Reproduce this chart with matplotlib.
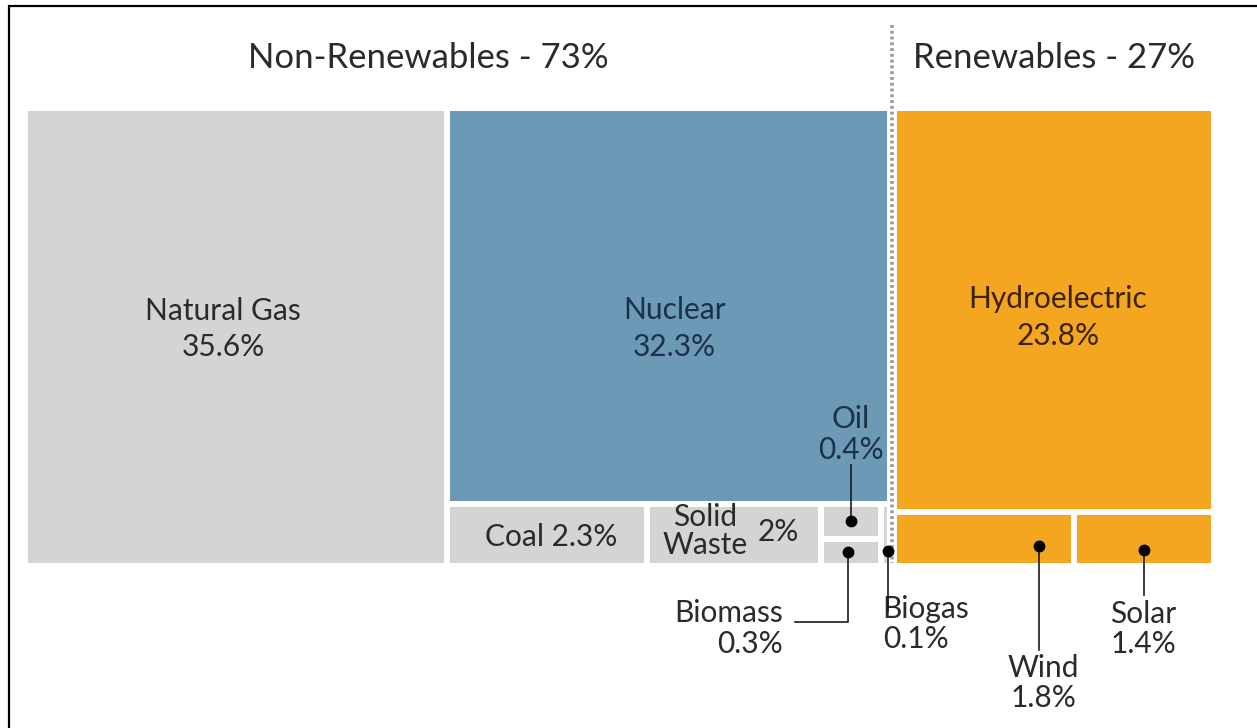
import matplotlib.pyplot as plt

plt.rcParams['font.family'] = ['Lato', 'DejaVu Sans']

# share of generation by source (%)
nonrenew_names = ["Natural Gas", "Nuclear", "Coal", "Solid Waste", "Oil", "Biomass", "Biogas"]
nonrenew_vals = [35.6, 32.3, 2.3, 2.0, 0.4, 0.3, 0.1]
renew_names = ["Hydroelectric", "Wind", "Solar"]
renew_vals = [23.8, 1.8, 1.4]
group_labels = ["Non-Renewables", "Renewables"]

GREY = "#d4d4d4"
BLUE = "#6c9ab6"
ORANGE = "#f4a621"
TXT = "#2a2a2a"
NAVY = "#1c3149"
BROWN = "#3a2200"

W, H = 1257, 728
fig = plt.figure(figsize=(W / 100, H / 100), dpi=100)
ax = fig.add_axes([0, 0, 1, 1])
ax.set_xlim(0, W)
ax.set_ylim(H, 0)
ax.axis("off")

# treemap box in pixels (edges straddle the box so extend by half a gap)
bx0, bx1, by0, by1 = 25, 1214, 108, 566
group_gap = 4
gap_lw = 4.3

nr = dict(zip(nonrenew_names, nonrenew_vals))
rn = dict(zip(renew_names, renew_vals))
nr_total = sum(nonrenew_vals)
rn_total = sum(renew_vals)
total = nr_total + rn_total

width = bx1 - bx0 - group_gap
hgt = by1 - by0
nr_w = width * nr_total / total
rn_x0 = bx0 + nr_w + group_gap

cells = {}
# natural gas takes the full height
ng_w = nr_w * nr["Natural Gas"] / nr_total
cells["Natural Gas"] = (bx0, by0, ng_w, hgt)
rest_x0 = bx0 + ng_w
rest_w = nr_w - ng_w
rest_total = nr_total - nr["Natural Gas"]
nuc_h = hgt * nr["Nuclear"] / rest_total
cells["Nuclear"] = (rest_x0, by0, rest_w, nuc_h)
strip_y = by0 + nuc_h
strip_h = hgt - nuc_h
strip_total = rest_total - nr["Nuclear"]
x = rest_x0
for name in ["Coal", "Solid Waste"]:
    w = rest_w * nr[name] / strip_total
    cells[name] = (x, strip_y, w, strip_h)
    x += w
ob = nr["Oil"] + nr["Biomass"]
w = rest_w * ob / strip_total
oil_h = strip_h * nr["Oil"] / ob
cells["Oil"] = (x, strip_y, w, oil_h)
cells["Biomass"] = (x, strip_y + oil_h, w, strip_h - oil_h)
x += w
cells["Biogas"] = (x, strip_y, rest_w * nr["Biogas"] / strip_total, strip_h)

rn_w = width - nr_w
hyd_h = hgt * rn["Hydroelectric"] / rn_total
cells["Hydroelectric"] = (rn_x0, by0, rn_w, hyd_h)
low_total = rn["Wind"] + rn["Solar"]
wind_w = rn_w * rn["Wind"] / low_total
cells["Wind"] = (rn_x0, by0 + hyd_h, wind_w, hgt - hyd_h)
cells["Solar"] = (rn_x0 + wind_w, by0 + hyd_h, rn_w - wind_w, hgt - hyd_h)

colors = {n: GREY for n in nonrenew_names}
colors["Nuclear"] = BLUE
for n in renew_names:
    colors[n] = ORANGE

for name, (cx, cy, cw, ch) in cells.items():
    ax.bar(cx, ch, width=cw, bottom=cy, align="edge", color=colors[name],
           edgecolor="white", linewidth=gap_lw)


def center(name):
    cx, cy, cw, ch = cells[name]
    return cx + cw / 2, cy + ch / 2


def pct(v):
    return f"{v:g}%"


FS = 21.5

# labels inside the big cells: (name, dx, dy, colour)
inside = [("Natural Gas", nr, -13, -8, TXT),
          ("Nuclear", nr, 6, 23, NAVY),
          ("Hydroelectric", rn, 4, 8, BROWN)]
for name, src, dx, dy, c in inside:
    mx, my = center(name)
    ax.text(mx + dx, my + dy, f"{name}\n{pct(src[name])}", ha="center", va="center",
            fontsize=FS, color=c, linespacing=1.38)

mx, my = center("Coal")
ax.text(mx + 4, my + 2, f"Coal {pct(nr['Coal'])}", ha="center", va="center", fontsize=FS, color=TXT)
mx, my = center("Solid Waste")
ax.text(mx - 29, my - 4, "Solid\nWaste", ha="center", va="center", fontsize=FS, color=TXT,
        linespacing=1.0)
ax.text(mx + 45, my - 3, pct(nr["Solid Waste"]), ha="center", va="center", fontsize=FS, color=TXT)

# callouts: name, value, dot offset, leader path offsets, text offset, align, colour
callouts = [
    ("Oil", nr["Oil"], (0, 0), [(0, -56)], (0, -87), "center", NAVY),
    ("Biomass", nr["Biomass"], (-3, -1), [(0, 70), (-53, 70)], (-65, 77), "right", TXT),
    ("Biogas", nr["Biogas"], (2, 16), [(0, 60)], (-5, 73), "left", TXT),
    ("Wind", rn["Wind"], (55, 7), [(0, 104)], (4, 137), "center", TXT),
    ("Solar", rn["Solar"], (0, 11), [(0, 45)], (-1, 79), "center", TXT),
]
for name, val, (ddx, ddy), path, (tdx, tdy), ha, c in callouts:
    mx, my = center(name)
    px, py = mx + ddx, my + ddy
    xs = [px] + [px + p[0] for p in path]
    ys = [py] + [py + p[1] for p in path]
    ax.plot(xs, ys, color="#1a1a1a", linewidth=1.2, zorder=4)
    ax.plot(px, py, "o", color="black", markersize=7.5, zorder=5)
    ax.text(px + tdx, py + tdy, f"{name}\n{pct(val)}", ha=ha, va="center",
            multialignment=ha, fontsize=FS, color=c, linespacing=1.1)

# group headers and the divider between them
div_x = bx0 + nr_w + group_gap / 2
ax.plot([div_x, div_x], [25, by1 - 3], color="#9a9a9a", linewidth=2.6,
        linestyle=(0, (0.8, 0.8)), zorder=3)
ax.text(428, 58, f"{group_labels[0]} - {nr_total:.0f}%", ha="center", va="center",
        fontsize=25, color=TXT)
ax.text(rn_x0 + rn_w / 2, 58, f"{group_labels[1]} - {rn_total:.0f}%", ha="center",
        va="center", fontsize=25, color=TXT)

# frame along the top and left edge
ax.plot([9, 9, W + 5], [H + 5, 5.5, 5.5], color="black", linewidth=1.6,
        solid_joinstyle="miter", clip_on=False)

fig.savefig("out.png", dpi=100)
